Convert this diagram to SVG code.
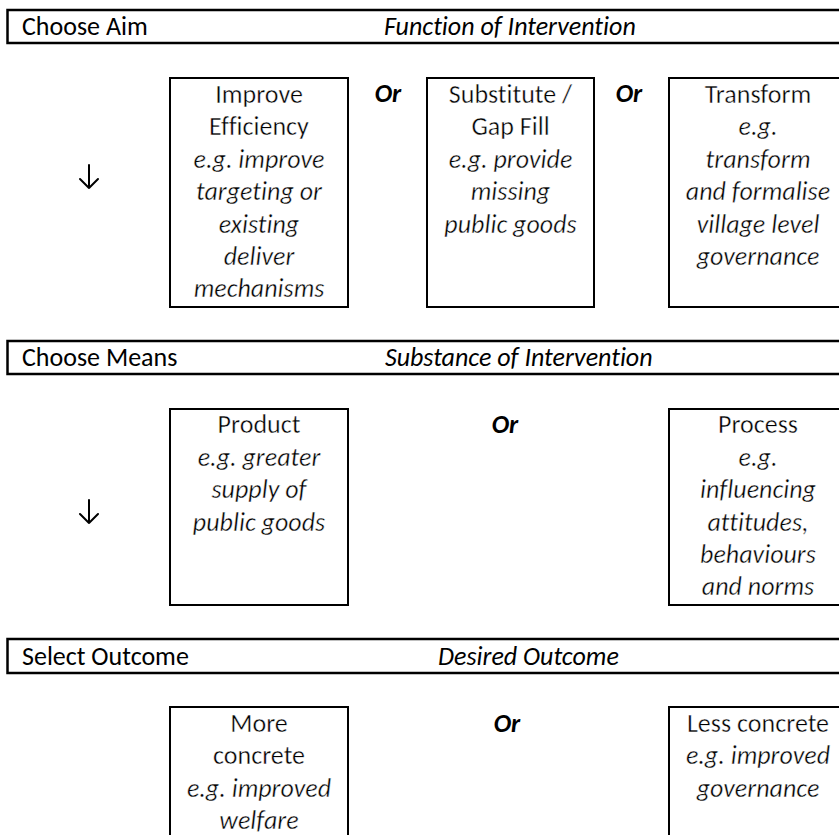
<svg xmlns="http://www.w3.org/2000/svg" width="839" height="835" viewBox="0 0 839 835">
  <style>
    text { font-variant-ligatures: none; font-feature-settings: "liga" 0, "clig" 0; }
    .bar { fill: none; stroke: #000; stroke-width: 2.5; }
    .box { fill: #fff; stroke: #000; stroke-width: 2; }
    .hd { font-family: Carlito, Lato, "Open Sans", sans-serif; font-size: 26px; fill: #000; }
    .hi { font-family: Carlito, Lato, "Open Sans", sans-serif; font-size: 26px; font-style: italic; fill: #000; }
    /* light body text: thin white outline trims the regular weight */
    .t { font-family: Carlito, Lato, "Open Sans", sans-serif; font-size: 26px; fill: #000; text-anchor: middle; stroke: #fff; stroke-width: 0.4px; }
    .ti { font-style: italic; }
    .or { font-family: Carlito, Lato, "Open Sans", sans-serif; font-size: 26px; font-weight: bold; font-style: italic; fill: #000; text-anchor: middle; }
    .arr { fill: none; stroke: #000; stroke-width: 2; stroke-linecap: round; stroke-linejoin: round; }
  </style>
  <rect width="839" height="835" fill="#fff"/>

  <!-- section headers -->
  <g id="hdr-aim">
    <rect class="bar" x="7.5" y="10" width="840" height="33"/>
    <text class="hd" x="22" y="35">Choose Aim</text>
    <text class="hi" x="384" y="35">Function of Intervention</text>
  </g>
  <g id="hdr-means">
    <rect class="bar" x="7.5" y="341" width="840" height="33"/>
    <text class="hd" x="22" y="366">Choose Means</text>
    <text class="hi" x="385" y="366">Substance of Intervention</text>
  </g>
  <g id="hdr-outcome">
    <rect class="bar" x="7.5" y="639" width="840" height="34"/>
    <text class="hd" x="22" y="665">Select Outcome</text>
    <text class="hi" x="438" y="665">Desired Outcome</text>
  </g>

  <!-- step arrows -->
  <g id="connectors">
    <path class="arr" d="M89,165 V188 M80,179 L89,188 L98,179"/>
    <path class="arr" d="M89,500 V523 M80,514 L89,523 L98,514"/>
  </g>

  <!-- aim options -->
  <g id="improve">
    <rect class="box" x="170" y="78" width="178" height="229"/>
    <text class="t" x="259" y="103">Improve</text>
    <text class="t" x="259" y="135.4">Efficiency</text>
    <text class="t ti" x="259" y="167.8">e.g. improve</text>
    <text class="t ti" x="259" y="200.2">targeting or</text>
    <text class="t ti" x="259" y="232.6">existing</text>
    <text class="t ti" x="259" y="265">deliver</text>
    <text class="t ti" x="259" y="297.4">mechanisms</text>
  </g>
  <text class="or" x="388" y="102">Or</text>
  <g id="substitute">
    <rect class="box" x="427" y="78" width="167" height="229"/>
    <text class="t" x="510.5" y="103">Substitute /</text>
    <text class="t" x="510.5" y="135.4">Gap Fill</text>
    <text class="t ti" x="510.5" y="167.8">e.g. provide</text>
    <text class="t ti" x="510.5" y="200.2">missing</text>
    <text class="t ti" x="510.5" y="232.6">public goods</text>
  </g>
  <text class="or" x="629" y="102">Or</text>
  <g id="transform">
    <rect class="box" x="669" y="78" width="178" height="229"/>
    <text class="t" x="758" y="103">Transform</text>
    <text class="t ti" x="758" y="135.4">e.g.</text>
    <text class="t ti" x="758" y="167.8">transform</text>
    <text class="t ti" x="758" y="200.2">and formalise</text>
    <text class="t ti" x="758" y="232.6">village level</text>
    <text class="t ti" x="758" y="265">governance</text>
  </g>

  <!-- means options -->
  <g id="product">
    <rect class="box" x="170" y="409" width="178" height="196"/>
    <text class="t" x="259" y="433.4">Product</text>
    <text class="t ti" x="259" y="465.8">e.g. greater</text>
    <text class="t ti" x="259" y="498.2">supply of</text>
    <text class="t ti" x="259" y="530.6">public goods</text>
  </g>
  <text class="or" x="505" y="433">Or</text>
  <g id="process">
    <rect class="box" x="669" y="409" width="178" height="196"/>
    <text class="t" x="758" y="433.4">Process</text>
    <text class="t ti" x="758" y="465.8">e.g.</text>
    <text class="t ti" x="758" y="498.2">influencing</text>
    <text class="t ti" x="758" y="530.6">attitudes,</text>
    <text class="t ti" x="758" y="563">behaviours</text>
    <text class="t ti" x="758" y="595.4">and norms</text>
  </g>

  <!-- outcome options -->
  <g id="more-concrete">
    <rect class="box" x="170" y="707" width="178" height="140"/>
    <text class="t" x="259" y="732">More</text>
    <text class="t" x="259" y="764.4">concrete</text>
    <text class="t ti" x="259" y="796.8">e.g. improved</text>
    <text class="t ti" x="259" y="829.2">welfare</text>
  </g>
  <text class="or" x="507" y="732">Or</text>
  <g id="less-concrete">
    <rect class="box" x="669" y="707" width="178" height="140"/>
    <text class="t" x="758" y="732">Less concrete</text>
    <text class="t ti" x="758" y="764.4">e.g. improved</text>
    <text class="t ti" x="758" y="796.8">governance</text>
  </g>
</svg>
